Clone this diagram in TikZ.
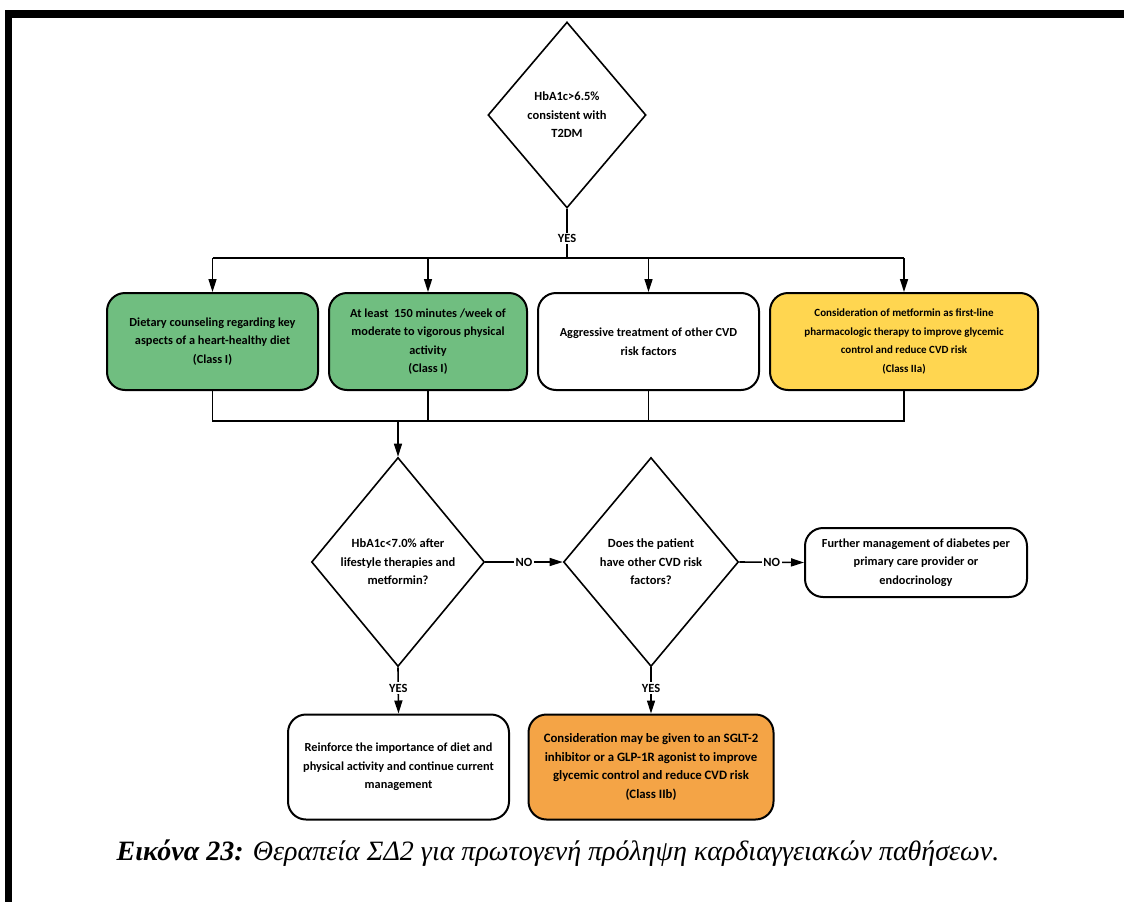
\documentclass[tikz,border=0pt]{standalone}
\usepackage{fontspec}
\setmainfont{Carlito}
\newfontfamily\capfont{Liberation Serif}
\usetikzlibrary{shapes.geometric,arrows.meta}
\definecolor{greenbox}{RGB}{112,190,128}
\definecolor{yellowbox}{RGB}{255,214,80}
\definecolor{orangebox}{RGB}{244,164,70}
\tikzset{
  box/.style={draw=black, line width=2pt, rounded corners=18pt, align=center,
    inner sep=0pt, font=\fontsize{12.3}{18.5}\selectfont\bfseries},
  smalltext/.style={font=\fontsize{11}{18.5}\selectfont\bfseries},
  largetext/.style={font=\fontsize{12.8}{18.5}\selectfont\bfseries},
  dia/.style={draw=black, line width=1.6pt, diamond, inner sep=0pt},
  dtext/.style={align=center, inner sep=0pt, font=\fontsize{12.5}{18.5}\selectfont\bfseries},
  link/.style={line width=1.6pt},
  arr/.style={link, -{Triangle[length=13pt,width=8pt]}},
  lbl/.style={fill=white, inner sep=1.5pt, font=\fontsize{12.5}{14}\selectfont\bfseries},
}
\begin{document}
\begin{tikzpicture}[x=1pt,y=-1pt]
\useasboundingbox (0,0) rectangle (1124,902);
% frame of the figure
\fill[black] (5,10) rectangle (1124,18);
\fill[black] (5,10) rectangle (12,902);

% first decision
\node[dia, minimum width=158pt, minimum height=186pt] (d1) at (567,115) {};
\node[dtext] (t1) at (d1.center) {HbA1c>6.5\%\\consistent with\\T2DM};

% first-line measures
\node[box, fill=greenbox, minimum width=211pt, minimum height=97pt] (b1) at (212.5,341.5)
  {Dietary counseling regarding key\\aspects of a heart-healthy diet\\(Class I)};
\node[box, fill=greenbox, minimum width=198pt, minimum height=97pt] (b2) at (428,341.5)
  {At least\ \ 150 minutes /week of\\moderate to vigorous physical\\activity\\(Class I)};
\node[box, fill=white, minimum width=221pt, minimum height=97pt] (b3) at (648.5,341.5)
  {Aggressive treatment of other CVD\\risk factors};
\node[box, smalltext, fill=yellowbox, minimum width=268pt, minimum height=97pt] (b4) at (904,341.5)
  {Consideration of metformin as first-line\\pharmacologic therapy to improve glycemic\\control and reduce CVD risk\\(Class IIa)};

% follow-up decisions
\node[dia, minimum width=173pt, minimum height=209pt] (d2) at (398,562) {};
\node[dtext] (t2) at (d2.center) {HbA1c<7.0\% after\\lifestyle therapies and\\metformin?};
\node[dia, minimum width=175pt, minimum height=209pt] (d3) at (651,562) {};
\node[dtext] (t3) at (d3.center) {Does the patient\\have other CVD risk\\factors?};

\node[box, fill=white, minimum width=222pt, minimum height=69pt] (b5) at (916,562.5)
  {Further management of diabetes per\\primary care provider or\\endocrinology};
\node[box, fill=white, minimum width=221pt, minimum height=105pt] (b6) at (398.5,767)
  {Reinforce the importance of diet and\\physical activity and continue current\\management};
\node[box, largetext, fill=orangebox, minimum width=245pt, minimum height=105pt] (b7) at (651,767)
  {Consideration may be given to an SGLT-2\\inhibitor or a GLP-1R agonist to improve\\glycemic control and reduce CVD risk\\(Class IIb)};

% connectors
\coordinate (bus) at (567,258);
\coordinate (merge) at (398,421);
\draw[link] (d1.south) -- node[lbl, pos=0.6] {YES} (bus);
\draw[link] (b1.north |- bus) -- (b4.north |- bus);
\foreach \b in {b1,b2,b3,b4} \draw[arr] (\b.north |- bus) -- (\b.north);
\draw[link] (b1.south) -- (b1.south |- merge) -- (b4.south |- merge) -- (b4.south);
\draw[link] (b2.south) -- (b2.south |- merge);
\draw[link] (b3.south) -- (b3.south |- merge);
\draw[arr] (merge) -- (d2.north);
\draw[arr] (d2.east) -- node[lbl] {NO} (d3.west);
\draw[arr] (d3.east) -- node[lbl] {NO} (b5.west);
\draw[arr] (d2.south) -- node[lbl, pos=0.45] {YES} (b6.north);
\draw[arr] (d3.south) -- node[lbl, pos=0.45] {YES} (b7.north);

% caption
\node[font=\capfont\fontsize{28}{32}\selectfont] (cap) at (558,853)
  {\textbf{\textit{Εικόνα 23:}} \textit{Θεραπεία ΣΔ2 για πρωτογενή πρόληψη καρδιαγγειακών παθήσεων.}};
\end{tikzpicture}
\end{document}
